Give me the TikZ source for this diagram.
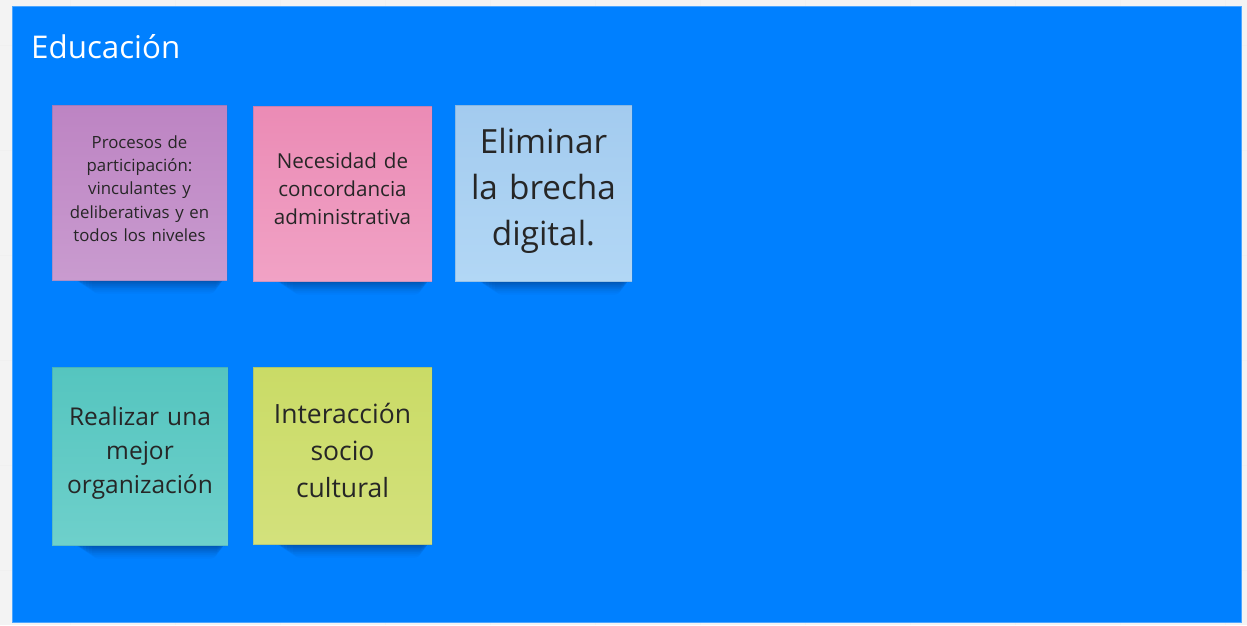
\documentclass[tikz,border=0pt]{standalone}
\usepackage{fontspec}
\setmainfont{Open Sans}
\definecolor{bg}{HTML}{F3F3F3}
\definecolor{frameblue}{HTML}{0080FF}
\definecolor{shadowblue}{HTML}{00306E}
\definecolor{txt}{HTML}{262626}
\definecolor{purT}{HTML}{BD84C3}\definecolor{purB}{HTML}{C99BCF}
\definecolor{pinT}{HTML}{EB8BB5}\definecolor{pinB}{HTML}{F1A2C5}
\definecolor{bluT}{HTML}{A3CBEF}\definecolor{bluB}{HTML}{B2D7F5}
\definecolor{teaT}{HTML}{55C5BF}\definecolor{teaB}{HTML}{6ED0CB}
\definecolor{yelT}{HTML}{CADB66}\definecolor{yelB}{HTML}{D3E17C}
\tikzset{
  sticky/.style={rectangle, inner sep=0pt, draw=frameblue!60!black, draw opacity=0.15, line width=0.4pt},
  stickytext/.style={align=center, text=txt, inner sep=0pt},
}
\usetikzlibrary{calc}
\newcommand{\stickyshadow}[3]{%
  \foreach \k/\o in {0/0.18,1/0.14,2/0.11,3/0.09,4/0.07,5/0.05,6/0.04}{
    \fill[shadowblue, opacity=\o, rounded corners=6pt]
      ($(#1+22+\k*3,#3-4)$) rectangle ($(#2-2-\k*1.5,#3+1.5+\k*2)$);
  }
}
\begin{document}
\begin{tikzpicture}[x=1pt,y=-1pt]
\useasboundingbox (0,0) rectangle (1247,625);
\fill[bg] (0,0) rectangle (1247,625);
\foreach \x in {70,175,280,385,490,595,700,805,910,1015,1120,1225}{
  \draw[black!6, line width=0.6pt] (\x,0) -- (\x,625);
}
\foreach \y in {45,150,255,360,465,570}{
  \draw[black!6, line width=0.6pt] (0,\y) -- (1247,\y);
}
\node[rectangle, fill=frameblue, draw=frameblue!70!white, line width=0.8pt, minimum width=1229pt, minimum height=616pt, inner sep=0pt] (frame) at (626.5,314) {};
\node[anchor=base west, text=white, font=\fontsize{31.3}{36}\selectfont, inner sep=0pt] (title) at (31,58) {Educación};

% shadows
\stickyshadow{52}{227}{280}
\stickyshadow{253}{432}{281}
\stickyshadow{455}{632}{281}
\stickyshadow{52}{228}{545}
\stickyshadow{253}{432}{544}

% stickies
\node[sticky, top color=purT, bottom color=purB, minimum width=175pt, minimum height=175pt] (s1) at (139.5,192.5) {};
\node[sticky, top color=pinT, bottom color=pinB, minimum width=179pt, minimum height=175pt] (s2) at (342.5,193.5) {};
\node[sticky, top color=bluT, bottom color=bluB, minimum width=177pt, minimum height=176pt] (s3) at (543.5,193) {};
\node[sticky, top color=teaT, bottom color=teaB, minimum width=176pt, minimum height=178pt] (s4) at (140,456) {};
\node[sticky, top color=yelT, bottom color=yelB, minimum width=179pt, minimum height=177pt] (s5) at (342.5,455.5) {};

\node[stickytext, font=\fontsize{16.8}{23.4}\selectfont, text width=174pt] (t1) at ($(s1.center)+(0,-4)$) {Procesos de\\participación:\\vinculantes y\\deliberativas y en\\todos los niveles};
\node[stickytext, font=\fontsize{20.6}{28}\selectfont, text width=178pt] (t2) at ($(s2.center)+(0,-5)$) {Necesidad de\\concordancia\\administrativa};
\node[stickytext, font=\fontsize{33.3}{46}\selectfont, text width=176pt] (t3) at ($(s3.center)+(0,-2)$) {Eliminar\\la brecha\\digital.};
\node[stickytext, font=\fontsize{24.5}{34}\selectfont, text width=176pt] (t4) at ($(s4.center)+(0,-2.5)$) {Realizar una\\mejor\\organización};
\node[stickytext, font=\fontsize{26.5}{37}\selectfont, text width=178pt] (t5) at ($(s5.center)+(0,-5)$) {Interacción\\socio\\cultural};
\end{tikzpicture}
\end{document}
